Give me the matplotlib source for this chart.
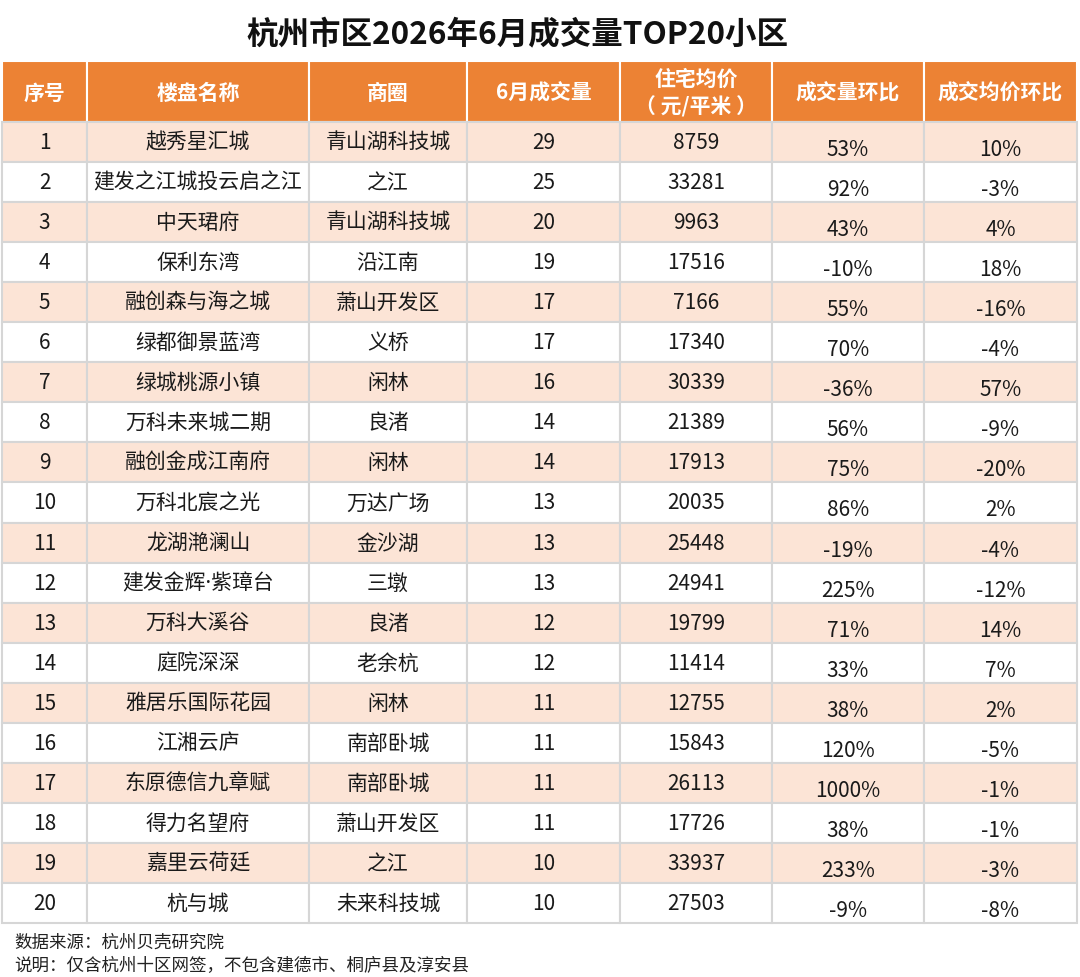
import matplotlib
matplotlib.use("Agg")
import matplotlib.pyplot as plt
from matplotlib.patches import Rectangle

plt.rcParams['font.family'] = ['Noto Sans CJK SC', 'DejaVu Sans']

title = "杭州市区2026年6月成交量TOP20小区"
headers = ["序号", "楼盘名称", "商圈", "6月成交量", "住宅均价\n（ 元/平米 ）", "成交量环比", "成交均价环比"]

ranks = list(range(1, 21))
names = ["越秀星汇城", "建发之江城投云启之江", "中天珺府", "保利东湾", "融创森与海之城",
         "绿都御景蓝湾", "绿城桃源小镇", "万科未来城二期", "融创金成江南府", "万科北宸之光",
         "龙湖滟澜山", "建发金辉·紫璋台", "万科大溪谷", "庭院深深", "雅居乐国际花园",
         "江湘云庐", "东原德信九章赋", "得力名望府", "嘉里云荷廷", "杭与城"]
areas = ["青山湖科技城", "之江", "青山湖科技城", "沿江南", "萧山开发区",
         "义桥", "闲林", "良渚", "闲林", "万达广场",
         "金沙湖", "三墩", "良渚", "老余杭", "闲林",
         "南部卧城", "南部卧城", "萧山开发区", "之江", "未来科技城"]
volumes = [29, 25, 20, 19, 17, 17, 16, 14, 14, 13, 13, 13, 12, 12, 11, 11, 11, 11, 10, 10]
prices = [8759, 33281, 9963, 17516, 7166, 17340, 30339, 21389, 17913, 20035,
          25448, 24941, 19799, 11414, 12755, 15843, 26113, 17726, 33937, 27503]
vol_mom = ["53%", "92%", "43%", "-10%", "55%", "70%", "-36%", "56%", "75%", "86%",
           "-19%", "225%", "71%", "33%", "38%", "120%", "1000%", "38%", "233%", "-9%"]
price_mom = ["10%", "-3%", "4%", "18%", "-16%", "-4%", "57%", "-9%", "-20%", "2%",
             "-4%", "-12%", "14%", "7%", "2%", "-5%", "-1%", "-1%", "-3%", "-8%"]
footnotes = ["数据来源：杭州贝壳研究院", "说明：仅含杭州十区网签，不包含建德市、桐庐县及淳安县"]

# layout (pixel coordinates)
W, H = 1080, 978
col_edges = [2, 87, 309, 467, 620, 772, 924, 1077]
header_top, header_bot = 62, 123
row_h = 40.05
orange = "#EC8234"
peach = "#FCE4D6"
grid = "#D6D6D6"
txt = "#1a1a1a"

fig = plt.figure(figsize=(W / 100, H / 100), dpi=100)
ax = fig.add_axes([0, 0, 1, 1])
ax.set_xlim(0, W)
ax.set_ylim(H, 0)
ax.axis("off")

ax.text(517, 35, title, ha="center", va="center", fontsize=22.7,
        fontweight="bold", color="#111111")

# header
for j, h in enumerate(headers):
    x0, x1 = col_edges[j], col_edges[j + 1]
    ax.add_patch(Rectangle((x0, header_top), x1 - x0, header_bot - header_top,
                           facecolor=orange, edgecolor="white", linewidth=1.5))
    ax.text((x0 + x1) / 2, (header_top + header_bot) / 2 + 1, h, ha="center", va="center",
            fontsize=15, fontweight="bold", color="white", linespacing=1.35)

# body
for i in range(20):
    y0 = header_bot + i * row_h
    fc = peach if i % 2 == 0 else "white"
    row = [str(ranks[i]), names[i], areas[i], str(volumes[i]), str(prices[i]),
           vol_mom[i], price_mom[i]]
    for j, val in enumerate(row):
        x0, x1 = col_edges[j], col_edges[j + 1]
        ax.add_patch(Rectangle((x0, y0), x1 - x0, row_h, facecolor=fc,
                               edgecolor=grid, linewidth=1.5))
        dy = 7 if j >= 5 else 0
        fam = ['Noto Sans', 'Noto Sans CJK SC'] if j == 1 else ['Noto Sans CJK SC', 'DejaVu Sans']
        ax.text((x0 + x1) / 2, y0 + row_h / 2 + dy, val, ha="center", va="center",
                fontsize=15, color=txt, family=fam)

for k, f in enumerate(footnotes):
    ax.text(14, 943 + k * 23, f, ha="left", va="center", fontsize=12.6, color="#222222")

fig.savefig("out.png", dpi=100)
